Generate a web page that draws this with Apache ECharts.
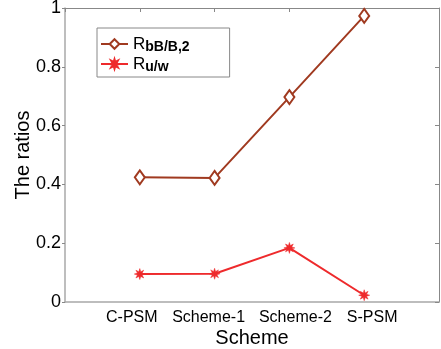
<!DOCTYPE html>
<html>
<head>
<meta charset="utf-8">
<script src="https://cdn.jsdelivr.net/npm/echarts@6/dist/echarts.min.js"></script>
<style>
  html, body { margin: 0; padding: 0; background: #fff; }
  #chart { width: 441px; height: 349px; }
</style>
</head>
<body>
<div id="chart"></div>
<script>
// Schemes along the horizontal axis
const schemes = ['C-PSM', 'Scheme-1', 'Scheme-2', 'S-PSM'];
// Ratio R_bB/B,2 for each scheme
const ratioBB = [0.424, 0.422, 0.697, 0.973];
// Ratio R_u/w for each scheme
const ratioUW = [0.095, 0.096, 0.184, 0.023];
// Vertical axis ticks
const yTicks = [0, 0.2, 0.4, 0.6, 0.8, 1];

const brown = '#a03a20';
const red = '#ee2a2c';

// asterisk-like marker built as a spiky 8-point star
function starPath(points, outer, inner) {
  let d = '';
  for (let i = 0; i < points * 2; i++) {
    const r = i % 2 === 0 ? outer : inner;
    const a = Math.PI * i / points - Math.PI / 2;
    const x = (r * Math.cos(a)).toFixed(2);
    const y = (r * Math.sin(a)).toFixed(2);
    d += (i === 0 ? 'M' : 'L') + x + ',' + y;
  }
  return 'path://' + d + 'Z';
}
const asterisk = starPath(8, 10, 4.6);

const toPoints = vals => vals.map((v, i) => [i + 1, v]);

const font = 'Arial, "Liberation Sans", sans-serif';

// per-label nudges of the scheme names (left/right padding)
const labelPad = [[0, 16, 0, 0], [0, 12, 0, 0], [0, 0, 0, 12], [0, 0, 0, 16]];
const labelRich = {};
labelPad.forEach((p, i) => {
  labelRich['c' + i] = { fontSize: 16, color: '#000', fontFamily: font, padding: p };
});

const chart = echarts.init(document.getElementById('chart'), null, { renderer: 'canvas' });

chart.setOption({
  animation: false,
  textStyle: { fontFamily: font },
  grid: { left: 65, right: 2, top: 8, bottom: 47, containLabel: false, outerBoundsMode: 'none' },
  legend: {
    orient: 'vertical',
    left: 97,
    top: 28,
    padding: [6, 40, 3, 3],
    itemWidth: 27,
    itemHeight: 12,
    itemGap: 0,
    borderColor: '#888',
    borderWidth: 1,
    backgroundColor: '#fff',
    data: ['bB/B,2', 'u/w'],
    formatter: name => '{r|R}{s|' + name + '}',
    textStyle: {
      rich: {
        r: { fontSize: 17, color: '#000', fontFamily: font, lineHeight: 14 },
        s: { fontSize: 14, fontWeight: 'bold', color: '#000', fontFamily: font, padding: [6, 0, 0, 0], lineHeight: 14 }
      }
    }
  },
  xAxis: [
    {
      type: 'value', min: 0, max: 5, interval: 1,
      position: 'bottom',
      axisLine: { onZero: false, lineStyle: { color: '#a8a8a8', width: 1.5 } },
      axisTick: { show: false },
      splitLine: { show: false },
      axisLabel: {
        margin: 8,
        formatter: v => (v >= 1 && v <= schemes.length) ? '{c' + (v - 1) + '|' + schemes[v - 1] + '}' : '',
        rich: labelRich
      },
      name: 'Scheme', nameLocation: 'middle', nameGap: 26, nameMoveOverlap: false,
      nameTextStyle: { fontSize: 20, color: '#000', fontFamily: font }
    },
    {
      type: 'value', min: 0, max: 5, interval: 1,
      position: 'top',
      axisLine: { onZero: false, lineStyle: { color: '#888', width: 1 } },
      axisTick: { inside: true, length: 4, lineStyle: { color: '#888' } },
      axisLabel: { show: false },
      splitLine: { show: false }
    }
  ],
  yAxis: [
    {
      type: 'value', min: yTicks[0], max: yTicks[yTicks.length - 1], interval: 0.2,
      position: 'left',
      axisLine: { show: true, onZero: false, lineStyle: { color: '#a8a8a8', width: 1.5 } },
      axisTick: { show: true, length: 3, lineStyle: { color: '#888' } },
      splitLine: { show: false },
      axisLabel: { fontSize: 18, color: '#000', margin: 4, fontFamily: font },
      name: 'The ratios', nameLocation: 'middle', nameGap: 32, nameRotate: 90, nameMoveOverlap: false,
      nameTextStyle: { fontSize: 20, color: '#000', fontFamily: font }
    },
    {
      type: 'value', min: yTicks[0], max: yTicks[yTicks.length - 1], interval: 0.2,
      position: 'right',
      axisLine: { show: true, onZero: false, lineStyle: { color: '#888', width: 1 } },
      axisTick: { show: true, inside: true, length: 4, lineStyle: { color: '#888' } },
      axisLabel: { show: false },
      splitLine: { show: false }
    }
  ],
  series: [
    {
      name: 'bB/B,2', type: 'line',
      data: toPoints(ratioBB),
      lineStyle: { color: brown, width: 2 },
      symbol: 'diamond', symbolSize: [10, 14],
      itemStyle: { color: '#fff', borderColor: brown, borderWidth: 2 },
      z: 3
    },
    {
      name: 'u/w', type: 'line',
      data: toPoints(ratioUW),
      lineStyle: { color: red, width: 2 },
      symbol: asterisk, symbolSize: 11,
      itemStyle: { color: red, borderColor: red, borderWidth: 0.5 },
      z: 4
    }
  ]
});
</script>
</body>
</html>
